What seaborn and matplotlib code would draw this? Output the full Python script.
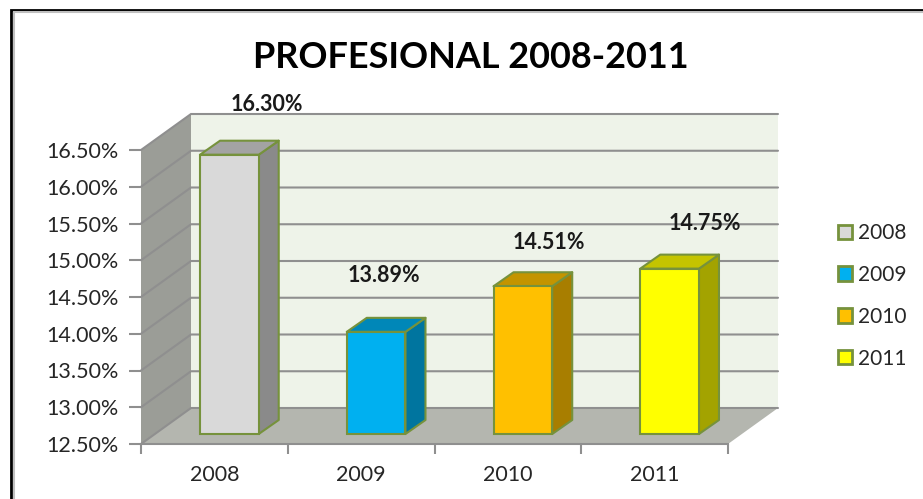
import matplotlib
matplotlib.use("Agg")
import matplotlib.pyplot as plt
from matplotlib.patches import Polygon, Rectangle
from matplotlib.transforms import IdentityTransform, Affine2D
import numpy as np
import seaborn as sns

# values
years = ["2008", "2009", "2010", "2011"]
values = [16.30, 13.89, 14.51, 14.75]
value_labels = ["16.30%", "13.89%", "14.51%", "14.75%"]
y_ticks = [12.5, 13.0, 13.5, 14.0, 14.5, 15.0, 15.5, 16.0, 16.5]
y_tick_labels = ["12.50%", "13.00%", "13.50%", "14.00%", "14.50%", "15.00%", "15.50%", "16.00%", "16.50%"]
title = "PROFESIONAL 2008-2011"

front_colors = ["#d9d9d9", "#00b0f0", "#ffc000", "#ffff00"]
side_colors = ["#8a8a8a", "#00759f", "#a87e00", "#a3a300"]
top_colors = ["#a3a3a3", "#0087b8", "#c49400", "#c4c400"]
edge_color = "#76923c"

W, H = 923, 499
# px offsets of the 3d look
wall_dx, wall_dy = 50, 36
bar_dx, bar_dy = 15, 10
depth_dx, depth_dy = 20, 14
label_dx = [37, 8, 26, 35]
label_dy = [50, 56, 44, 45]

sns.set_style("white")
plt.rcParams["font.family"] = ["Lato", "DejaVu Sans"]

fig = plt.figure(figsize=(W / 100, H / 100), dpi=100)
ax = fig.add_axes([141 / W, 1 - 444 / H, 587 / W, 294 / H])
ax.patch.set_visible(False)

sns.barplot(x=years, y=values, hue=years, palette=front_colors, dodge=False, width=0.4, saturation=1,
            edgecolor=edge_color, linewidth=1.5, legend=True, ax=ax, zorder=5)
ax.set_xlim(-0.5, 3.5)
ax.set_ylim(y_ticks[0], y_ticks[-1])


def px(x, y, dx=0, dy=0):
    # data -> display pixels, with a shift (dy counted upwards)
    p = ax.transData.transform((x, y))
    return (p[0] + dx, p[1] + dy)


def poly(points, color, edge="none", lw=0, z=1):
    ax.add_patch(Polygon(points, closed=True, facecolor=color, edgecolor=edge, linewidth=lw,
                         transform=IdentityTransform(), clip_on=False, zorder=z, joinstyle="round"))


xl, xr = ax.get_xlim()
yb, yt = ax.get_ylim()

# back wall, left wall, floor
poly([px(xl, yb, wall_dx, wall_dy), px(xr, yb, wall_dx, wall_dy),
      px(xr, yt, wall_dx, wall_dy), px(xl, yt, wall_dx, wall_dy)], "#eef3e9")
poly([px(xl, yb), px(xl, yb, wall_dx, wall_dy), px(xl, yt, wall_dx, wall_dy), px(xl, yt)], "#9b9d97")
poly([px(xl, yb), px(xr, yb), px(xr, yb, wall_dx, wall_dy), px(xl, yb, wall_dx, wall_dy)], "#b4b6af")

# gridlines run along the left wall and the back wall
for t in y_ticks:
    pts = np.array([px(xl, t), px(xl, t, wall_dx, wall_dy), px(xr, t, wall_dx, wall_dy)])
    ax.plot(pts[:, 0], pts[:, 1], color="#8f8f8f", lw=1.5, transform=IdentityTransform(),
            clip_on=False, zorder=2, solid_joinstyle="miter")

# front faces from seaborn, moved into the floor, plus sides and tops
for i, container in enumerate(ax.containers):
    for bar in container:
        if np.isnan(bar.get_height()) or bar.get_height() == 0:
            continue
        v = values[i]
        bar.set_y(yb)
        bar.set_height(v - yb)
        bar.set_transform(ax.transData + Affine2D().translate(bar_dx, bar_dy))
        bar.set_clip_on(False)
        x0, x1 = bar.get_x(), bar.get_x() + bar.get_width()
        a = px(x1, yb, bar_dx, bar_dy)
        b = px(x1, v, bar_dx, bar_dy)
        c = px(x0, v, bar_dx, bar_dy)
        shift = np.array([depth_dx, depth_dy])
        poly([a, np.add(a, shift), np.add(b, shift), b], side_colors[i], edge_color, 1.5, 4)
        poly([c, b, np.add(b, shift), np.add(c, shift)], top_colors[i], edge_color, 1.5, 4)
        lx, ly = px((x0 + x1) / 2, v, bar_dx + label_dx[i], bar_dy + label_dy[i])
        ax.text(lx, ly, value_labels[i], transform=IdentityTransform(), ha="center", va="center",
                fontsize=15.5, fontweight="bold", color="#1a1a1a", zorder=6, clip_on=False)

ax.set_yticks(y_ticks)
ax.set_yticklabels(y_tick_labels)
ax.set_xticks(range(len(years)))
ax.set_xticklabels(years)
ax.set_xticks(np.arange(-0.5, 4), minor=True)
ax.tick_params(axis="y", length=9, width=1.5, color="#8f8f8f", labelsize=15.5, labelcolor="#262626", pad=7, left=True)
ax.tick_params(axis="x", which="minor", length=7, width=1.5, color="#8f8f8f", bottom=True)
ax.tick_params(axis="x", which="major", length=0, labelsize=15.5, labelcolor="#262626", pad=15)
ax.set_xlabel("")
ax.set_ylabel("")
sns.despine(ax=ax, top=True, right=True)
for side in ["left", "bottom"]:
    ax.spines[side].set_color("#8f8f8f")
    ax.spines[side].set_linewidth(1.5)
ax.spines["left"].set_visible(False)
ax.spines["bottom"].set_zorder(3)

leg = ax.legend(loc="upper left", bbox_to_anchor=(838 / W, 1 - 223 / H), bbox_transform=fig.transFigure,
                frameon=False, fontsize=15, labelspacing=1.05, handlelength=0.67, handleheight=0.67,
                handletextpad=0.3, borderpad=0, borderaxespad=0)
for text in leg.get_texts():
    text.set_color("#262626")
for handle in leg.get_patches():
    handle.set_edgecolor(edge_color)
    handle.set_linewidth(2)

fig.text(471 / W, 1 - 58 / H, title, ha="center", va="center", fontsize=25.9, fontweight="bold", color="black")

# screenshot frame, open on the right and at the bottom
fig.add_artist(Rectangle((11 / W, -0.02), 1, 1 - 10 / H + 0.02, transform=fig.transFigure,
                         fill=False, edgecolor="black", linewidth=2))
fig.add_artist(Rectangle((13.5 / W, -0.02), 1, 1 - 12 / H + 0.02, transform=fig.transFigure,
                         fill=False, edgecolor="#c0c0c0", linewidth=1.5))

fig.savefig("out.png", dpi=100)
